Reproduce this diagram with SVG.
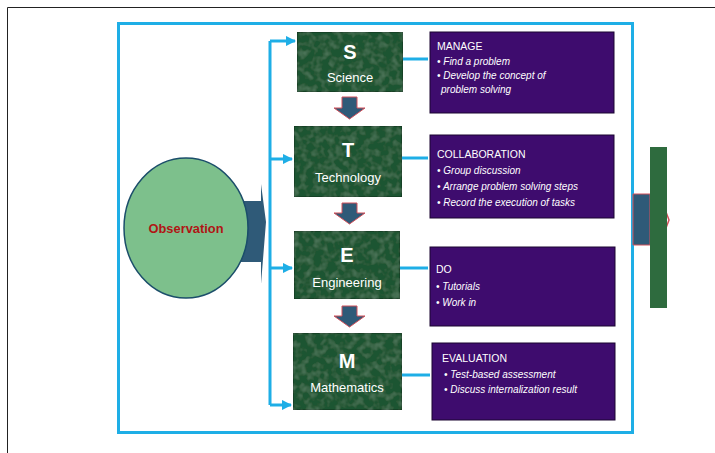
<svg xmlns="http://www.w3.org/2000/svg" width="715" height="453" viewBox="0 0 715 453">
<defs>
<style>
.frame{fill:none;stroke:#1eaee6;stroke-width:3}
.conn{fill:none;stroke:#1eaee6;stroke-width:3}
.green{fill:#1f5430;stroke:#14301d;stroke-width:1}
.purple{fill:#3e0c6e;stroke:#1a0430;stroke-width:1}
.letter{font-family:"Liberation Sans",Arial,sans-serif;font-size:20px;font-weight:bold;fill:#ffffff;text-anchor:middle}
.sub{font-family:"Liberation Sans",Arial,sans-serif;font-size:13px;fill:#ffffff;text-anchor:middle}
.title{font-family:"Liberation Sans",Arial,sans-serif;font-size:10.5px;fill:#ffffff}
.item{font-family:"Liberation Sans",Arial,sans-serif;font-size:10px;font-style:italic;fill:#ffffff}
.down{fill:#2f5a78;stroke:#d0505a;stroke-width:1}
</style>
<marker id="ah" viewBox="0 0 10 10" refX="9" refY="5" markerWidth="3.5" markerHeight="3.5" orient="auto" markerUnits="strokeWidth">
<path d="M0,0 L10,5 L0,10 z" fill="#1eaee6"/>
</marker>
<filter id="tex" x="0" y="0" width="100%" height="100%">
<feTurbulence type="fractalNoise" baseFrequency="0.14" numOctaves="2" seed="3" result="n"/>
<feColorMatrix in="n" type="matrix" values="0 0 0 0 0.32  0 0 0 0 0.55  0 0 0 0 0.4  0 0 0 0.45 -0.2" result="c"/>
<feComposite in="c" in2="SourceGraphic" operator="atop"/>
</filter>
</defs>
<rect width="715" height="453" fill="#ffffff"/>
<path d="M7.5,453 L7.5,7.5 L715,7.5" fill="none" stroke="#222222" stroke-width="1"/>
<rect class="frame" x="118.5" y="23.5" width="514" height="409"/>

<g id="observation">
<path d="M238,201 L261,201 L261,184 L266,222 L261,284 L261,262 L238,262 z" fill="#2f5a78"/>
<ellipse cx="186" cy="228" rx="62" ry="70" fill="#7dc08c" stroke="#1b4e6a" stroke-width="1.5"/>
<text x="186" y="233" font-family="Liberation Sans,Arial,sans-serif" font-size="13" font-weight="bold" fill="#b01515" text-anchor="middle" textLength="75" lengthAdjust="spacingAndGlyphs">Observation</text>
</g>

<g id="connectors">
<path class="conn" d="M270,41 L270,405"/>
<path class="conn" d="M270,41 L295,41" marker-end="url(#ah)"/>
<path class="conn" d="M270,159 L292,159" marker-end="url(#ah)"/>
<path class="conn" d="M270,268 L292,268" marker-end="url(#ah)"/>
<path class="conn" d="M270,405 L291,405" marker-end="url(#ah)"/>
<path class="conn" d="M403,59 L428,59"/>
<path class="conn" d="M402,158 L428,158"/>
<path class="conn" d="M400,268 L428,268"/>
<path class="conn" d="M402,375 L430,375"/>
<path class="down" d="M342,97 L357,97 L357,108 L365,108 L349.5,119 L334,108 L342,108 z"/>
<path class="down" d="M342,203 L357,203 L357,213 L365,213 L349.5,224 L334,213 L342,213 z"/>
<path class="down" d="M342,306 L357,306 L357,316 L365,316 L349.5,327 L334,316 L342,316 z"/>
</g>

<g id="science">
<rect class="green" x="297" y="32" width="106" height="60" filter="url(#tex)"/>
<text class="letter" x="350" y="59">S</text>
<text class="sub" x="350" y="82">Science</text>
</g>
<g id="technology">
<rect class="green" x="294" y="126" width="108" height="71" filter="url(#tex)"/>
<text class="letter" x="348" y="157">T</text>
<text class="sub" x="348" y="182">Technology</text>
</g>
<g id="engineering">
<rect class="green" x="294" y="231" width="106" height="68" filter="url(#tex)"/>
<text class="letter" x="347" y="262">E</text>
<text class="sub" x="347" y="287">Engineering</text>
</g>
<g id="mathematics">
<rect class="green" x="293" y="333" width="109" height="77" filter="url(#tex)"/>
<text class="letter" x="347" y="368">M</text>
<text class="sub" x="347" y="392">Mathematics</text>
</g>

<g id="manage">
<rect class="purple" x="430" y="32" width="184" height="81"/>
<text class="title" x="437" y="50">MANAGE</text>
<text class="item" x="437" y="65">• Find  a problem</text>
<text class="item" x="437" y="79">• Develop the concept of</text>
<text class="item" x="441" y="93">problem solving</text>
</g>
<g id="collaboration">
<rect class="purple" x="430" y="135" width="184" height="83"/>
<text class="title" x="437" y="158">COLLABORATION</text>
<text class="item" x="437" y="174">• Group  discussion</text>
<text class="item" x="437" y="190">• Arrange problem solving  steps</text>
<text class="item" x="437" y="206">• Record the execution of tasks</text>
</g>
<g id="do">
<rect class="purple" x="430" y="247" width="185" height="79"/>
<text class="title" x="436" y="273">DO</text>
<text class="item" x="436" y="290">•  Tutorials</text>
<text class="item" x="436" y="306">•  Work in</text>
</g>
<g id="evaluation">
<rect class="purple" x="432" y="343" width="183" height="77"/>
<text class="title" x="442" y="362">EVALUATION</text>
<text class="item" x="444" y="378">•  Test-based assessment</text>
<text class="item" x="444" y="393">•  Discuss internalization result</text>
</g>

<g id="output">
<path d="M633,194 L650,194 L650,245 L633,245 z" fill="#2f5a78" stroke="#d0505a" stroke-width="1"/>
<path d="M666,212 L669,220 L666,228" fill="none" stroke="#d0505a" stroke-width="1.5"/>
<rect x="650" y="147" width="17" height="161" fill="#2e6b3e"/>
</g>
</svg>
